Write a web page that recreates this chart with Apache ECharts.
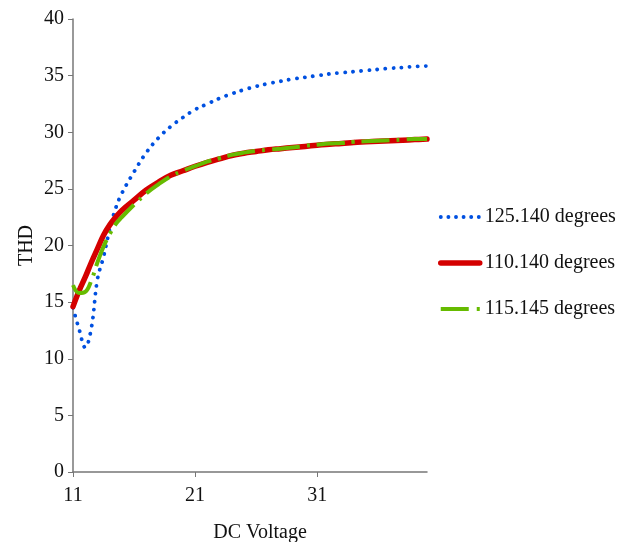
<!DOCTYPE html>
<html>
<head>
<meta charset="utf-8">
<script src="https://cdn.jsdelivr.net/npm/echarts@6/dist/echarts.min.js"></script>
<style>html,body{margin:0;padding:0;background:#fff}#c{width:627px;height:542px}</style>
</head>
<body>
<div id="c"></div>
<script>
const voltages = [11, 11.5, 12, 12.5, 13, 13.5, 14, 14.5, 15, 16, 17, 18, 19, 20, 21, 22, 23, 24, 25, 26, 27, 28, 29, 30, 31, 32, 33, 34, 35, 36, 37, 38, 39, 40];
const thd125 = [14.5, 12.6, 11.0, 12.7, 17.0, 19.0, 21.4, 23.3, 24.6, 26.5, 28.2, 29.5, 30.5, 31.3, 32.0, 32.5, 33.0, 33.4, 33.75, 34.05, 34.3, 34.5, 34.7, 34.85, 35.0, 35.15, 35.25, 35.35, 35.45, 35.55, 35.65, 35.72, 35.8, 35.85];
const thd110 = [14.6, 16.0, 17.2, 18.5, 19.7, 20.9, 21.8, 22.5, 23.1, 24.0, 24.9, 25.6, 26.2, 26.6, 27.0, 27.35, 27.65, 27.95, 28.15, 28.3, 28.45, 28.55, 28.65, 28.75, 28.85, 28.95, 29.0, 29.1, 29.15, 29.2, 29.25, 29.3, 29.35, 29.4];
const thd115 = [16.5, 15.8, 15.9, 16.9, 18.5, 19.9, 21.0, 21.9, 22.5, 23.6, 24.6, 25.4, 26.1, 26.6, 27.0, 27.4, 27.7, 28.0, 28.2, 28.35, 28.45, 28.55, 28.65, 28.8, 28.9, 29.0, 29.05, 29.15, 29.2, 29.25, 29.3, 29.35, 29.4, 29.4];
const seriesNames = ['125.140 degrees', '110.140 degrees', '115.145 degrees'];
const xTicks = [11, 21, 31];

const pairs = ys => voltages.map((v, i) => [v, ys[i]]);
const font = 'Liberation Serif, Times New Roman, serif';
const styles = [
  { color: '#0050e0', width: 3.8, type: [0.1, 8], cap: 'round' },
  { color: '#d40000', width: 5.5, type: 'solid', cap: 'round' },
  { color: '#66bb00', width: 4, type: [28, 7, 3, 7], cap: 'butt' }
];
const legendStyles = [
  { color: '#0050e0', width: 3.8, type: [0.1, 7.5], cap: 'round' },
  { color: '#d40000', width: 5.5, type: 'solid', cap: 'round' },
  { color: '#66bb00', width: 4, type: [28, 8, 3, 8], cap: 'butt' }
];
const chart = echarts.init(document.getElementById('c'));
chart.setOption({
  animation: false,
  backgroundColor: '#fff',
  grid: { left: 73, right: 200, top: 19, bottom: 70, containLabel: false, outerBoundsMode: 'none' },
  legend: {
    orient: 'vertical', left: 433, top: 202, itemWidth: 39, itemHeight: 14, itemGap: 26,
    itemStyle: { opacity: 0 },
    textStyle: { fontFamily: font, fontSize: 20, color: '#111' },
    data: seriesNames.map((n, i) => ({ name: n, lineStyle: legendStyles[i], itemStyle: { opacity: 0 } }))
  },
  xAxis: {
    type: 'value', min: 11, max: 40, interval: 10,
    name: 'DC Voltage', nameLocation: 'middle', nameGap: 51, nameMoveOverlap: false,
    nameTextStyle: { fontFamily: font, fontSize: 20, color: '#111', padding: [0, 0, 0, 20] },
    axisLine: { show: true, lineStyle: { color: '#777', width: 1.5 } },
    axisTick: { show: true, length: 5, lineStyle: { color: '#777' }, customValues: xTicks },
    axisLabel: { fontFamily: font, fontSize: 20, color: '#111', margin: 14, customValues: xTicks },
    splitLine: { show: false }
  },
  yAxis: {
    type: 'value', min: 0, max: 40, interval: 5,
    name: 'THD', nameLocation: 'middle', nameGap: 36, nameRotate: 90, nameMoveOverlap: false,
    nameTextStyle: { fontFamily: font, fontSize: 20, color: '#111' },
    axisLine: { show: true, lineStyle: { color: '#777', width: 1.5 } },
    axisTick: { show: true, length: 5, lineStyle: { color: '#777' } },
    axisLabel: { fontFamily: font, fontSize: 20, color: '#111', margin: 9 },
    splitLine: { show: false }
  },
  series: [
    { name: seriesNames[0], type: 'line', data: pairs(thd125), smooth: 0.4, symbol: 'none',
      color: styles[0].color, lineStyle: styles[0] },
    { name: seriesNames[1], type: 'line', data: pairs(thd110), smooth: 0.4, symbol: 'none',
      color: styles[1].color, lineStyle: styles[1] },
    { name: seriesNames[2], type: 'line', data: pairs(thd115), smooth: 0.4, symbol: 'none',
      color: styles[2].color, lineStyle: styles[2] }
  ]
});
</script>
</body>
</html>
